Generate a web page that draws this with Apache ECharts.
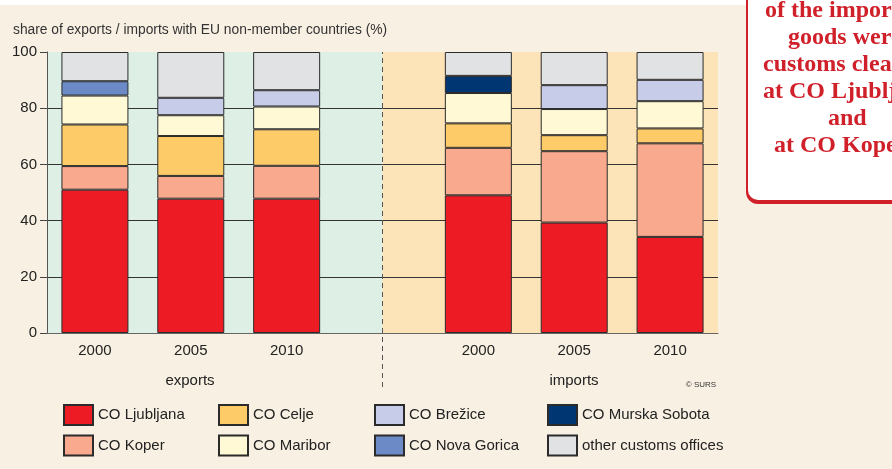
<!DOCTYPE html>
<html>
<head>
<meta charset="utf-8">
<script src="https://cdn.jsdelivr.net/npm/echarts@6/dist/echarts.min.js"></script>
<style>
  html, body { margin: 0; padding: 0; background: #f8f0e3; }
  #chart { width: 892px; height: 469px; }
</style>
</head>
<body>
<div id="chart"></div>
<script>
// x slots: three export years, an empty gap, three import years
const years = ['2000', '2005', '2010', '', '2000', '2005', '2010'];

// shares in % ('-' = gap slot / not shown)
const ljubljana    = [51.0, 47.8, 47.8, '-', 49.0, 39.3, 34.2];
const koper        = [8.4, 8.1, 11.7, '-', 16.9, 25.4, 33.3];
const celje        = [14.8, 14.2, 13.0, '-', 8.7, 5.7, 5.3];
const maribor      = [10.3, 7.4, 8.1, '-', 10.8, 9.3, 9.7];
const brezice      = ['-', 6.2, 5.8, '-', '-', 8.5, 7.6];
const novaGorica   = [5.1, '-', '-', '-', '-', '-', '-'];
const murskaSobota = ['-', '-', '-', '-', 6.1, '-', '-'];
const other        = [10.4, 16.3, 13.6, '-', 8.5, 11.8, 9.9];

const offices = [
  { name: 'CO Ljubljana', data: ljubljana, color: '#ed1c24' },
  { name: 'CO Koper', data: koper, color: '#f9a98e' },
  { name: 'CO Celje', data: celje, color: '#fecb69' },
  { name: 'CO Maribor', data: maribor, color: '#fff9d5' },
  { name: 'CO Brežice', data: brezice, color: '#c7cce8' },
  { name: 'CO Nova Gorica', data: novaGorica, color: '#6c8ac6' },
  { name: 'CO Murska Sobota', data: murskaSobota, color: '#003671' },
  { name: 'other customs offices', data: other, color: '#e1e2e4' }
];

const font = 'Liberation Sans, Arial, sans-serif';
const red = '#d0202a';

const chart = echarts.init(document.getElementById('chart'));

const barSeries = offices.map(o => ({
  name: o.name,
  type: 'bar',
  stack: 'share',
  barWidth: 67,
  data: o.data,
  itemStyle: { color: o.color, borderColor: '#2b2b2b', borderWidth: 1 },
  emphasis: { disabled: true }
}));

// backgrounds of the two groups, on a hidden 0..7 axis, under the grid lines
const bgSeries = {
  type: 'line',
  xAxisIndex: 1,
  yAxisIndex: 0,
  data: [[0, 0]],
  symbol: 'none',
  lineStyle: { opacity: 0 },
  silent: true,
  z: -1,
  markArea: {
    silent: true,
    z: -1,
    data: [
      [{ xAxis: 0, yAxis: 0, itemStyle: { color: '#deefe5' } }, { xAxis: 3.5, yAxis: 100 }],
      [{ xAxis: 3.5, yAxis: 0, itemStyle: { color: '#fde3b8' } }, { xAxis: 7, yAxis: 100 }]
    ]
  }
};

// dashed separator, in a taller helper grid that reaches under the labels
const sepSeries = {
  type: 'line',
  xAxisIndex: 2,
  yAxisIndex: 1,
  data: [[0, 0]],
  symbol: 'none',
  lineStyle: { opacity: 0 },
  silent: true,
  markLine: {
    silent: true,
    symbol: 'none',
    label: { show: false },
    lineStyle: { color: '#555', type: [5, 4], width: 1 },
    data: [{ xAxis: 3.5 }]
  }
};

const legendBase = {
  orient: 'vertical',
  top: 399,
  itemWidth: 29,
  itemHeight: 20,
  itemGap: 8.5,
  icon: 'rect',
  selectedMode: false,
  textStyle: { fontFamily: font, fontSize: 15, color: '#222' }
};

const boxLines = [
  { text: 'of the imported', x: 765, y: 11 },
  { text: 'goods were', x: 788, y: 38 },
  { text: 'customs cleared', x: 763, y: 65 },
  { text: 'at CO Ljubljana', x: 763, y: 92 },
  { text: 'and', x: 828, y: 119 },
  { text: 'at CO Koper', x: 774, y: 146 }
];

chart.setOption({
  backgroundColor: '#f8f0e3',
  animation: false,
  title: {
    text: 'share of exports / imports with EU non-member countries (%)',
    left: 8,
    top: 18,
    textStyle: { fontFamily: font, fontSize: 13.8, fontWeight: 'normal', color: '#333' }
  },
  legend: [
    Object.assign({ left: 58, data: ['CO Ljubljana', 'CO Koper'] }, legendBase),
    Object.assign({ left: 213, data: ['CO Celje', 'CO Maribor'] }, legendBase),
    Object.assign({ left: 369, data: ['CO Brežice', 'CO Nova Gorica'] }, legendBase),
    Object.assign({ left: 542, data: ['CO Murska Sobota', 'other customs offices'] }, legendBase)
  ],
  grid: [
    { left: 47, right: 174, top: 52, bottom: 136 },
    { left: 47, right: 174, top: 52, bottom: 82 }
  ],
  xAxis: [
    {
      type: 'category',
      data: years,
      axisTick: { show: false },
      axisLine: { lineStyle: { color: '#666', width: 1 } },
      axisLabel: { fontFamily: font, fontSize: 15, color: '#222', margin: 10 }
    },
    { type: 'value', min: 0, max: 7, show: false },
    { type: 'value', gridIndex: 1, min: 0, max: 7, show: false }
  ],
  yAxis: [
    {
      type: 'value',
      min: 0,
      max: 100,
      interval: 20,
      axisLine: { show: true, lineStyle: { color: '#555' } },
      axisTick: { show: true, length: 7, lineStyle: { color: '#444' } },
      axisLabel: { fontFamily: font, fontSize: 15, color: '#222', margin: 10 },
      splitLine: { showMaxLine: false, lineStyle: { color: '#333', width: 1 } }
    },
    { type: 'value', gridIndex: 1, min: 0, max: 1, show: false }
  ],
  series: [bgSeries, sepSeries].concat(barSeries),
  graphic: [
    { type: 'rect', shape: { x: 0, y: 0, width: 892, height: 5 }, style: { fill: '#ffffff' }, z: -1 },
    { type: 'text', style: { text: 'exports', x: 190, y: 381, fontFamily: font, fontSize: 15, fill: '#222', align: 'center', verticalAlign: 'middle' } },
    { type: 'text', style: { text: 'imports', x: 574, y: 381, fontFamily: font, fontSize: 15, fill: '#222', align: 'center', verticalAlign: 'middle' } },
    { type: 'text', style: { text: '© SURS', x: 701, y: 385, fontFamily: font, fontSize: 8, fill: '#333', align: 'center', verticalAlign: 'middle' } },
    { type: 'rect', shape: { x: 746, y: -20, width: 220, height: 224, r: [0, 0, 0, 12] }, style: { fill: red } },
    { type: 'rect', shape: { x: 748, y: -20, width: 220, height: 220, r: [0, 0, 0, 10] }, style: { fill: '#ffffff' } }
  ].concat(boxLines.map(l => ({
    type: 'text',
    style: {
      text: l.text, x: l.x, y: l.y,
      fontFamily: 'Liberation Serif, serif', fontWeight: 'bold', fontSize: 24,
      fill: red, verticalAlign: 'middle'
    }
  })))
});
</script>
</body>
</html>
